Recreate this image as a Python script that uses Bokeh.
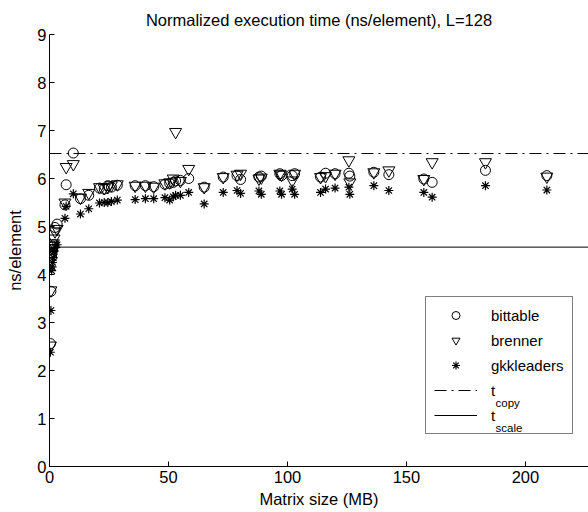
from bokeh.plotting import figure
from bokeh.models import Range1d, Legend, LegendItem, Label, FixedTicker
from bokeh.embed import file_html
from bokeh.resources import INLINE

# Matrix size (MB)
sizes = [0.4, 0.6, 0.9, 1.1, 1.3, 1.6, 1.9, 2.3, 3.2, 6.5, 7.0, 10.0, 13.0, 16.5,
         21.0, 23.0, 24.5, 26.0, 28.5, 36.0, 40.3, 43.8, 48.5, 50.5, 52.0, 53.0, 55.0,
         58.5, 65.0, 73.0, 78.8, 80.3, 88.0, 89.0, 96.8, 97.5, 102.0, 103.0, 113.9,
         116.0, 120.0, 125.8, 126.2, 136.3, 142.6, 157.3, 160.8, 183.2, 209.0]

bittable = [2.56, 3.65, 4.36, 4.45, 4.52, 4.58, 4.62, 4.98, 5.05, 5.45, 5.87, 6.53, 5.58, 5.65,
            5.80, 5.78, 5.85, 5.82, 5.86, 5.85, 5.85, 5.83, 5.88, 5.90, 5.92, 5.95, 5.96,
            6.00, 5.82, 6.03, 6.06, 5.98, 6.03, 6.05, 6.10, 6.06, 6.06, 6.10, 6.03,
            6.11, 6.10, 6.11, 6.05, 6.13, 6.08, 5.99, 5.92, 6.17, 6.06]

brenner = [2.52, 3.67, 4.45, 4.55, 4.60, 4.65, 4.75, 4.90, 4.95, 5.50, 6.24, 6.30, 5.60, 5.70,
           5.82, 5.80, 5.82, 5.86, 5.88, 5.85, 5.85, 5.83, 5.90, 5.92, 6.00, 6.97, 5.95,
           6.20, 5.82, 6.03, 6.08, 6.10, 6.00, 6.02, 6.10, 6.08, 5.96, 6.10, 6.03,
           6.05, 6.10, 6.38, 5.92, 6.13, 6.17, 5.99, 6.34, 6.34, 6.04]

gkkleaders = [2.38, 3.25, 4.08, 4.16, 4.25, 4.35, 4.48, 4.56, 4.62, 5.17, 5.42, 5.68, 5.26, 5.37,
              5.49, 5.50, 5.50, 5.52, 5.55, 5.56, 5.58, 5.58, 5.60, 5.55, 5.62, 5.65, 5.65,
              5.71, 5.47, 5.71, 5.75, 5.69, 5.74, 5.67, 5.74, 5.67, 5.78, 5.67, 5.71,
              5.78, 5.80, 5.82, 5.67, 5.85, 5.75, 5.71, 5.61, 5.85, 5.76]

t_copy = 6.52
t_scale = 4.57

x_ticks = [0, 50, 100, 150, 200]
y_ticks = [0, 1, 2, 3, 4, 5, 6, 7, 8, 9]
X_MAX = 226.5
Y_MAX = 9

FONT = "Liberation Sans"
FS = "16.5px"

W, H = 588, 512
BL, BR, BT, BB = 49, 0, 34, 46
FRAME_W = W - BL - BR
FRAME_H = H - BT - BB

p = figure(width=W, height=H, x_range=Range1d(0, X_MAX), y_range=Range1d(0, Y_MAX),
           output_backend="svg", toolbar_location=None,
           title="Normalized execution time (ns/element), L=128",
           min_border_left=BL, min_border_right=BR, min_border_top=BT, min_border_bottom=BB)

p.title.align = "center"
p.title.text_font = FONT
p.title.text_font_style = "normal"
p.title.text_font_size = FS
p.title.text_color = "black"
p.title.standoff = 11

p.grid.visible = False
p.outline_line_color = None
p.background_fill_color = "white"
p.border_fill_color = "white"

for ax in (p.xaxis[0], p.yaxis[0]):
    ax.major_tick_in = 5
    ax.major_tick_out = 0
    ax.minor_tick_line_color = None
    ax.axis_line_color = "black"
    ax.major_tick_line_color = "black"
    ax.major_label_text_font = FONT
    ax.major_label_text_font_size = FS
    ax.major_label_text_color = "black"
    ax.axis_label_text_font = FONT
    ax.axis_label_text_font_size = FS
    ax.axis_label_text_font_style = "normal"
    ax.axis_label_text_color = "black"

p.xaxis.major_label_standoff = 4
p.xaxis.axis_label_standoff = 4
p.yaxis.major_label_standoff = 3
p.yaxis.axis_label_standoff = 10

p.xaxis.ticker = FixedTicker(ticks=x_ticks)
p.yaxis.ticker = FixedTicker(ticks=y_ticks)
p.xaxis.axis_label = "Matrix size (MB)"
p.yaxis.axis_label = "ns/element"

r_copy = p.line([0, X_MAX], [t_copy, t_copy], line_color="black", line_width=1,
                line_dash="12 5 2 5")
r_scale = p.line([0, X_MAX], [t_scale, t_scale], line_color="black", line_width=1)

r_bren = p.scatter(sizes, brenner, marker="inverted_triangle", size=12,
                   fill_color=None, line_color="black", line_width=1)
r_bit = p.scatter(sizes, bittable, marker="circle", size=10,
                  fill_color=None, line_color="black", line_width=1)
r_gkk = p.scatter(sizes, gkkleaders, marker="asterisk", size=9,
                  line_color="black", line_width=1.2)

LEG_X, LEG_Y = 376, 32
legend = Legend(items=[
    LegendItem(label="bittable", renderers=[r_bit]),
    LegendItem(label="brenner", renderers=[r_bren]),
    LegendItem(label="gkkleaders", renderers=[r_gkk]),
    LegendItem(label="t", renderers=[r_copy]),
    LegendItem(label="t", renderers=[r_scale]),
], location=(LEG_X, LEG_Y))
legend.border_line_color = "black"
legend.border_line_width = 1
legend.background_fill_color = "white"
legend.background_fill_alpha = 0
legend.padding = 8
legend.margin = 0
legend.spacing = 5
legend.glyph_width = 43
legend.glyph_height = 20
legend.label_height = 20
legend.label_width = 73
legend.label_standoff = 14
legend.label_text_font = FONT
legend.label_text_font_size = "15px"
legend.label_text_color = "black"
p.add_layout(legend, "center")

# subscripts of the two "t" legend labels (frame pixels -> data units)
px_per_x = FRAME_W / X_MAX
px_per_y = FRAME_H / Y_MAX
sub_px_x = LEG_X + 8 + 43 + 14 + 5
sub_x = [sub_px_x / px_per_x, sub_px_x / px_per_x]
sub_y = [64 / px_per_y, 39 / px_per_y]
sub_text = ["copy", "scale"]
p.text(x=sub_x, y=sub_y, text=sub_text, text_font_size="11.5px",
       text_color="black", text_baseline="middle", text_align="left",
       text_font={"value": FONT})

open("out.html", "w").write(file_html(p, INLINE))
